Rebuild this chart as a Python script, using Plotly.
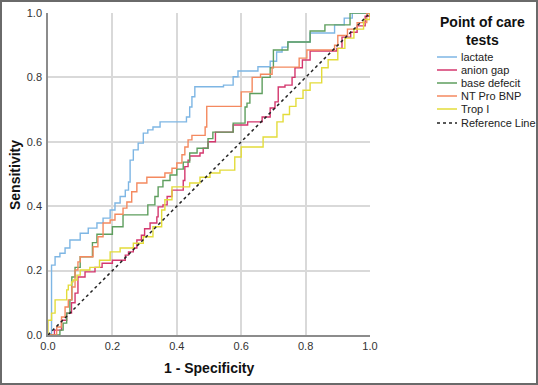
import plotly.graph_objects as go

# ---- data (ROC staircase corners: fpr where the step occurs, tpr after step) ----
series_names = ["lactate", "anion gap", "base defecit", "NT Pro BNP", "Trop I"]
series_colors = ["#7eb6e4", "#d4376e", "#5e9e5e", "#f4895f", "#e3dc3a"]

lactate_fpr = [0, 0.011, 0.022, 0.037, 0.053, 0.068, 0.10, 0.125, 0.152, 0.171, 0.193, 0.208, 0.224, 0.24, 0.25,
               0.255, 0.265, 0.28, 0.296, 0.31, 0.326, 0.348, 0.43, 0.44, 0.447, 0.456, 0.545, 0.575, 0.59, 0.652,
               0.69, 0.71, 0.727, 0.745, 0.814, 0.89, 0.92, 0.945, 1.0]
lactate_tpr = [0, 0.217, 0.243, 0.254, 0.27, 0.295, 0.316, 0.332, 0.348, 0.363, 0.388, 0.41, 0.43, 0.45, 0.475,
               0.543, 0.575, 0.596, 0.627, 0.637, 0.646, 0.662, 0.677, 0.708, 0.74, 0.771, 0.776, 0.802, 0.82, 0.833,
               0.85, 0.879, 0.894, 0.91, 0.938, 0.963, 0.984, 1.0, 1.0]

anion_fpr = [0, 0.02, 0.042, 0.058, 0.073, 0.084, 0.093, 0.115, 0.146, 0.168, 0.2, 0.24, 0.25, 0.265, 0.276,
             0.29, 0.3, 0.317, 0.338, 0.342, 0.357, 0.37, 0.385, 0.42, 0.425, 0.435, 0.44, 0.472, 0.482, 0.497,
             0.52, 0.575, 0.62, 0.665, 0.69, 0.705, 0.715, 0.736, 0.758, 0.767, 0.79, 0.814, 0.897, 0.913, 0.94,
             0.96, 0.985, 1.0]
anion_tpr = [0, 0.015, 0.046, 0.068, 0.1, 0.13, 0.18, 0.196, 0.21, 0.223, 0.232, 0.248, 0.258, 0.27, 0.295,
             0.31, 0.33, 0.348, 0.367, 0.398, 0.404, 0.43, 0.45, 0.48, 0.523, 0.543, 0.556, 0.565, 0.58, 0.6,
             0.63, 0.652, 0.662, 0.677, 0.705, 0.724, 0.77, 0.776, 0.80, 0.83, 0.854, 0.882, 0.89, 0.925, 0.94,
             0.96, 0.99, 1.0]

base_fpr = [0, 0.037, 0.047, 0.058, 0.068, 0.074, 0.084, 0.1, 0.138, 0.152, 0.2, 0.233, 0.31, 0.332, 0.342,
            0.357, 0.379, 0.4, 0.42, 0.44, 0.463, 0.497, 0.512, 0.575, 0.612, 0.618, 0.627, 0.665, 0.69, 0.7,
            0.745, 0.814, 0.86, 0.938, 1.0]
base_tpr = [0, 0.015, 0.037, 0.068, 0.109, 0.18, 0.21, 0.243, 0.287, 0.313, 0.336, 0.373, 0.404, 0.43, 0.46,
            0.48, 0.497, 0.515, 0.537, 0.565, 0.58, 0.61, 0.63, 0.658, 0.708, 0.72, 0.75, 0.8, 0.83, 0.885,
            0.91, 0.944, 0.963, 1.0, 1.0]

bnp_fpr = [0, 0.027, 0.042, 0.053, 0.063, 0.074, 0.084, 0.093, 0.1, 0.14, 0.155, 0.171, 0.193, 0.208, 0.233,
           0.245, 0.26, 0.276, 0.307, 0.363, 0.385, 0.4, 0.416, 0.425, 0.435, 0.447, 0.488, 0.493, 0.6, 0.634,
           0.66, 0.696, 0.78, 0.804, 0.89, 0.9, 0.93, 0.96, 0.99, 1.0]
bnp_tpr = [0, 0.025, 0.056, 0.087, 0.109, 0.149, 0.202, 0.227, 0.243, 0.274, 0.305, 0.348, 0.357, 0.375, 0.394,
           0.413, 0.445, 0.472, 0.49, 0.503, 0.518, 0.534, 0.56, 0.584, 0.606, 0.62, 0.646, 0.71, 0.755, 0.8,
           0.81, 0.832, 0.86, 0.885, 0.9, 0.93, 0.95, 0.97, 1.0, 1.0]

trop_fpr = [0, 0.0, 0.011, 0.022, 0.058, 0.063, 0.073, 0.078, 0.09, 0.1, 0.13, 0.16, 0.193, 0.224, 0.265,
            0.296, 0.326, 0.353, 0.363, 0.385, 0.44, 0.472, 0.503, 0.534, 0.58, 0.6, 0.668, 0.711, 0.73, 0.75,
            0.77, 0.792, 0.814, 0.85, 0.87, 0.9, 0.922, 0.95, 0.98, 1.0]
trop_tpr = [0, 0.046, 0.068, 0.109, 0.14, 0.155, 0.165, 0.171, 0.186, 0.202, 0.21, 0.232, 0.258, 0.27, 0.285,
            0.305, 0.336, 0.388, 0.42, 0.46, 0.472, 0.49, 0.503, 0.512, 0.553, 0.584, 0.615, 0.662, 0.685, 0.71,
            0.735, 0.76, 0.783, 0.83, 0.855, 0.89, 0.922, 0.95, 0.98, 1.0]

ref_x = [0, 1]
ref_y = [0, 1]

tick_vals = [0, 0.2, 0.4, 0.6, 0.8, 1.0]
tick_text = ["0.0", "0.2", "0.4", "0.6", "0.8", "1.0"]

legend_title = "Point of care<br>tests"
ref_name = "Reference Line"
x_title = "1 - Specificity"
y_title = "Sensitivity"

all_fpr = [lactate_fpr, anion_fpr, base_fpr, bnp_fpr, trop_fpr]
all_tpr = [lactate_tpr, anion_tpr, base_tpr, bnp_tpr, trop_tpr]

FONT = "Arial, Liberation Sans, sans-serif"

fig = go.Figure()
for name, col, xs, ys in zip(series_names, series_colors, all_fpr, all_tpr):
    fig.add_trace(go.Scatter(x=xs, y=ys, mode="lines", name=name, line=dict(color=col, width=1.4, shape="hv"),
                             showlegend=False))
fig.add_trace(go.Scatter(x=ref_x, y=ref_y, mode="lines", name=ref_name,
                         line=dict(color="#222222", width=1.5, dash="3px,3px"), showlegend=False))

# ---- layout geometry ----
W, H = 538, 385
ML, MR, MT, MB = 48, 168, 13, 50
PW, PH = W - ML - MR, H - MT - MB


def px2x(px):
    return (px - ML) / PW


def py2y(py):
    return (H - MB - py) / PH


shapes = []
annotations = []
# axis titles
annotations.append(dict(x=px2x(209), y=py2y(368), xref="paper", yref="paper", text="<b>" + x_title + "</b>",
                        showarrow=False, xanchor="center", yanchor="middle",
                        font=dict(family=FONT, size=14, color="#111111")))
annotations.append(dict(x=px2x(15), y=py2y(175), xref="paper", yref="paper", text="<b>" + y_title + "</b>",
                        showarrow=False, xanchor="center", yanchor="middle", textangle=-90,
                        font=dict(family=FONT, size=14, color="#111111")))
# manual legend
annotations.append(dict(x=px2x(482), y=py2y(31), xref="paper", yref="paper", text="<b>" + legend_title + "</b>",
                        showarrow=False, xanchor="center", yanchor="middle", align="center",
                        font=dict(family=FONT, size=14, color="#111111")))
legend_rows = [57, 70, 83, 96, 109, 123]
legend_names = series_names + [ref_name]
legend_cols = series_colors + ["#222222"]
for i, (nm, col, row) in enumerate(zip(legend_names, legend_cols, legend_rows)):
    shapes.append(dict(type="line", xref="paper", yref="paper", x0=px2x(437), x1=px2x(457), y0=py2y(row),
                       y1=py2y(row), line=dict(color=col, width=1.5, dash="3px,3px" if i == 5 else "solid")))
    annotations.append(dict(x=px2x(459), y=py2y(row), xref="paper", yref="paper", text=nm, showarrow=False,
                            xanchor="left", yanchor="middle", font=dict(family=FONT, size=11, color="#222222")))

# outer frame
shapes.append(dict(type="rect", xref="paper", yref="paper", x0=px2x(1), x1=px2x(W - 1), y0=py2y(H - 1), y1=py2y(1),
                   line=dict(color="#6a6a6a", width=2), fillcolor="rgba(0,0,0,0)", layer="above"))

fig.update_layout(
    width=W, height=H, margin=dict(l=ML, r=MR, t=MT, b=MB, pad=0, autoexpand=False),
    paper_bgcolor="white", plot_bgcolor="white",
    shapes=shapes, annotations=annotations, showlegend=False,
    font=dict(family=FONT, size=11, color="#333333"),
)
axis_common = dict(range=[0, 1], tickvals=tick_vals, ticktext=tick_text, showgrid=True, gridcolor="#d9d9d9",
                   gridwidth=1.5, zeroline=False, showline=True, linecolor="#8c8c8c", linewidth=1.5,
                   ticks="", automargin=False,
                   tickfont=dict(family=FONT, size=11, color="#333333"), fixedrange=True)
fig.update_xaxes(**axis_common)
fig.update_yaxes(**axis_common, ticklabelstandoff=2)

fig.write_html("out.html", config={"displayModeBar": False},
               post_script="document.body.style.margin='0';document.body.style.overflow='hidden';")
